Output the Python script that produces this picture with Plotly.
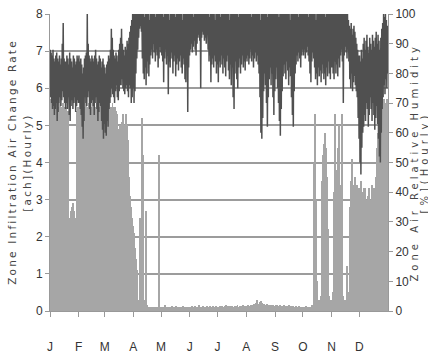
import pandas as pd
import plotly.graph_objects as go

YEAR_START = "2002-01-01"
months = ["J", "F", "M", "A", "M", "J", "J", "A", "S", "O", "N", "D"]

# Zone infiltration air change rate [ach], daily estimates (Jan..Dec)
infil_jan = [5.7, 5.6, 5.5, 5.6, 5.4, 5.5, 5.6, 5.5, 5.4, 5.5, 5.6, 5.5, 5.4, 5.5, 5.6, 5.5, 5.4, 5.5, 5.3, 5.4,
             1.15, 2.5, 2.7, 2.8, 2.9, 2.7, 2.6, 2.5, 2.35, 5.4, 5.5]
infil_feb = [5.5, 5.6, 5.4, 5.5, 5.6, 5.5, 5.4, 5.6, 5.5, 5.4, 5.5, 5.6, 5.5, 5.4, 5.5, 5.6, 5.5, 5.4, 5.5, 5.6,
             5.5, 5.4, 5.5, 5.6, 5.5, 5.4, 5.5, 5.6]
infil_mar = [5.5, 5.6, 5.4, 5.5, 5.6, 5.5, 5.4, 5.5, 5.6, 5.5, 5.4, 5.5, 5.4, 5.3, 2.0, 4.9, 5.0, 4.9, 5.1, 5.3,
             5.0, 4.9, 5.2, 5.3, 5.0, 4.6, 3.6, 3.1, 2.8, 2.5, 2.3]
infil_apr = [2.1, 1.7, 1.4, 1.1, 0.8, 0.3, 0.2, 2.5, 0.2, 5.2, 4.2, 0.3, 0.2, 2.7, 0.15, 0.1, 0.12, 0.08, 0.1, 0.12,
             0.1, 0.08, 0.1, 0.12, 0.1, 0.09, 0.1, 4.2, 0.12, 0.1]
infil_may = [0.1, 0.12, 0.08, 0.1, 0.15, 0.1, 0.09, 0.12, 0.1, 0.08, 0.1, 0.13, 0.1, 0.09, 0.11, 0.1, 0.14, 0.1, 0.08, 0.12,
             0.1, 0.09, 0.11, 0.13, 0.1, 0.12, 0.09, 0.1, 0.11, 0.1, 0.12]
infil_jun = [0.1, 0.12, 0.14, 0.1, 0.11, 0.13, 0.1, 0.12, 0.1, 0.15, 0.11, 0.1, 0.12, 0.1, 0.13, 0.11, 0.1, 0.12, 0.14, 0.1,
             0.11, 0.13, 0.12, 0.1, 0.11, 0.14, 0.12, 0.1, 0.13, 0.11]
infil_jul = [0.12, 0.1, 0.13, 0.11, 0.14, 0.12, 0.1, 0.13, 0.12, 0.15, 0.11, 0.13, 0.12, 0.14, 0.1, 0.13, 0.12, 0.11, 0.14, 0.12,
             0.13, 0.15, 0.12, 0.11, 0.14, 0.13, 0.12, 0.15, 0.13, 0.12, 0.14]
infil_aug = [0.13, 0.15, 0.12, 0.14, 0.16, 0.13, 0.15, 0.14, 0.18, 0.15, 0.22, 0.3, 0.2, 0.18, 0.25, 0.28, 0.22, 0.2, 0.17, 0.19,
             0.16, 0.15, 0.18, 0.16, 0.14, 0.17, 0.15, 0.13, 0.16, 0.14, 0.13]
infil_sep = [0.15, 0.13, 0.16, 0.14, 0.12, 0.15, 0.13, 0.14, 0.12, 0.16, 0.13, 0.12, 0.14, 0.13, 0.11, 0.15, 0.12, 0.13, 0.11, 0.14,
             0.12, 0.1, 0.13, 0.12, 0.11, 0.14, 0.12, 0.1, 0.12, 0.11]
infil_oct = [0.12, 0.1, 0.11, 0.13, 0.1, 0.12, 0.11, 0.1, 0.12, 0.15, 0.1, 0.12, 4.0, 5.3, 3.0, 0.8, 0.3, 0.2, 0.3, 0.4,
             3.5, 4.2, 4.5, 4.8, 4.7, 4.4, 3.6, 2.2, 0.4, 0.3, 0.2]
infil_nov = [0.3, 0.5, 3.2, 5.3, 3.8, 3.5, 4.4, 3.6, 5.0, 3.4, 3.3, 5.3, 0.4, 0.3, 0.2, 0.3, 1.2, 0.3, 0.5, 2.8,
             3.2, 3.5, 4.1, 3.4, 3.3, 3.6, 3.2, 3.4, 3.0, 3.3]
infil_dec = [3.1, 3.5, 3.2, 1.1, 3.3, 3.1, 3.3, 3.0, 2.9, 3.1, 3.3, 2.9, 3.0, 3.4, 3.2, 3.3, 3.0, 3.4, 3.6, 4.4,
             4.8, 4.6, 5.0, 5.3, 5.1, 5.5, 5.7, 5.6, 5.4, 5.7, 5.6]

# Zone air relative humidity [%], daily high / low estimates
rh_hi_jan = [88, 87, 86, 88, 85, 84, 86, 87, 85, 84, 86, 83, 85, 90, 97, 85, 84, 84, 86, 85,
             83, 87, 85, 84, 82, 86, 85, 83, 84, 86, 85]
rh_lo_jan = [72, 70, 68, 69, 66, 68, 70, 64, 67, 70, 72, 69, 71, 74, 72, 70, 68, 70, 68, 72,
             66, 64, 69, 71, 68, 70, 72, 67, 69, 71, 70]
rh_hi_feb = [86, 84, 85, 83, 80, 82, 85, 86, 87, 100, 90, 86, 85, 84, 86, 85, 84, 86, 88, 85,
             83, 84, 86, 85, 82, 84, 85, 83]
rh_lo_feb = [70, 68, 66, 62, 58, 64, 72, 70, 69, 72, 74, 68, 66, 70, 71, 69, 66, 70, 72, 68,
             64, 67, 70, 69, 64, 61, 58, 63]
rh_hi_mar = [82, 80, 83, 84, 86, 85, 88, 95, 92, 88, 86, 85, 87, 86, 84, 88, 90, 92, 95, 90,
             88, 86, 89, 88, 91, 90, 92, 94, 96, 98, 100]
rh_lo_mar = [60, 59, 64, 62, 68, 70, 72, 75, 73, 72, 70, 74, 76, 72, 71, 74, 76, 76, 78, 75,
             74, 73, 75, 76, 74, 72, 76, 75, 70, 72, 75]
rh_hi_apr = [100, 100, 100, 100, 100, 100, 100, 100, 100, 100, 100, 100, 99, 100, 100, 100, 100, 98, 100, 100,
             100, 100, 100, 100, 99, 100, 100, 100, 100, 100]
rh_lo_apr = [70, 74, 80, 85, 88, 92, 95, 96, 94, 85, 80, 78, 82, 76, 80, 84, 79, 83, 86, 88,
             85, 90, 87, 84, 88, 86, 82, 85, 89, 87]
rh_hi_may = [100, 100, 99, 100, 100, 100, 100, 100, 100, 98, 100, 100, 100, 100, 100, 99, 100, 100, 100, 100,
             100, 100, 100, 98, 100, 100, 100, 100, 100, 100, 100]
rh_lo_may = [86, 84, 77, 85, 88, 83, 86, 73, 84, 82, 87, 85, 80, 84, 86, 79, 83, 85, 81, 84,
             86, 82, 80, 85, 83, 78, 77, 84, 67, 82, 86]
rh_hi_jun = [100, 100, 100, 100, 99, 100, 100, 100, 100, 100, 100, 100, 100, 100, 100, 100, 100, 100, 100, 100,
             100, 99, 100, 100, 100, 100, 100, 98, 100, 100]
rh_lo_jun = [88, 90, 87, 89, 91, 88, 86, 90, 92, 93, 91, 75, 92, 94, 93, 91, 92, 90, 93, 88,
             84, 86, 77, 83, 85, 82, 86, 84, 80, 83]
rh_hi_jul = [100, 100, 100, 99, 100, 100, 100, 100, 100, 100, 100, 100, 100, 98, 100, 100, 100, 100, 100, 100,
             100, 100, 99, 100, 100, 100, 100, 100, 100, 100, 100]
rh_lo_jul = [77, 84, 82, 86, 83, 80, 85, 82, 79, 84, 86, 81, 78, 83, 76, 82, 72, 68, 80, 84,
             78, 75, 82, 85, 80, 83, 86, 82, 84, 81, 85]
rh_hi_aug = [100, 100, 100, 100, 100, 99, 100, 100, 100, 100, 100, 100, 100, 100, 100, 98, 100, 100, 100, 100,
             100, 100, 100, 99, 100, 100, 100, 100, 100, 100, 100]
rh_lo_aug = [84, 86, 83, 85, 88, 84, 86, 82, 85, 87, 84, 86, 83, 80, 72, 60, 58, 65, 74, 80,
             76, 70, 62, 72, 78, 82, 76, 80, 72, 66, 74]
rh_hi_sep = [100, 100, 100, 100, 99, 100, 100, 100, 100, 100, 100, 100, 100, 100, 100, 100, 98, 100, 100, 100,
             100, 100, 100, 100, 100, 99, 100, 100, 100, 100]
rh_lo_sep = [78, 82, 75, 70, 64, 59, 68, 74, 79, 83, 80, 78, 84, 81, 76, 82, 79, 72, 66, 62,
             74, 80, 83, 86, 84, 87, 85, 82, 86, 88]
rh_hi_oct = [100, 100, 100, 100, 100, 100, 99, 100, 100, 100, 100, 100, 100, 100, 98, 100, 100, 100, 100, 100,
             100, 100, 100, 100, 99, 100, 100, 100, 100, 100, 100]
rh_lo_oct = [86, 88, 85, 87, 89, 86, 84, 80, 77, 84, 87, 85, 82, 78, 80, 76, 82, 79, 81, 77,
             80, 83, 78, 80, 76, 82, 79, 84, 80, 78, 82]
rh_hi_nov = [100, 100, 100, 100, 100, 100, 100, 100, 100, 100, 100, 100, 100, 100, 100, 100, 100, 100, 98, 96,
             95, 97, 93, 95, 96, 94, 92, 90, 88, 86]
rh_lo_nov = [82, 80, 78, 84, 80, 83, 79, 85, 82, 86, 88, 84, 70, 86, 89, 87, 85, 88, 84, 78,
             75, 80, 74, 77, 79, 76, 74, 72, 65, 58]
rh_hi_dec = [86, 84, 88, 85, 90, 92, 88, 91, 93, 89, 87, 92, 90, 88, 93, 91, 89, 92, 94, 90,
             93, 91, 88, 92, 95, 97, 100, 99, 100, 98, 96]
rh_lo_dec = [50, 46, 55, 60, 62, 66, 64, 70, 68, 62, 66, 72, 68, 64, 70, 66, 61, 65, 69, 63,
             58, 52, 50, 60, 68, 72, 76, 73, 78, 75, 80]

left_title = ["Zone Infiltration Air Change Rate", "[ach](Hourly)"]
right_title = ["Zone Air Relative Humidity", "[%](Hourly)"]

infil = (infil_jan + infil_feb + infil_mar + infil_apr + infil_may + infil_jun +
         infil_jul + infil_aug + infil_sep + infil_oct + infil_nov + infil_dec)
rh_hi = (rh_hi_jan + rh_hi_feb + rh_hi_mar + rh_hi_apr + rh_hi_may + rh_hi_jun +
         rh_hi_jul + rh_hi_aug + rh_hi_sep + rh_hi_oct + rh_hi_nov + rh_hi_dec)
rh_lo = (rh_lo_jan + rh_lo_feb + rh_lo_mar + rh_lo_apr + rh_lo_may + rh_lo_jun +
         rh_lo_jul + rh_lo_aug + rh_lo_sep + rh_lo_oct + rh_lo_nov + rh_lo_dec)

days = pd.date_range(YEAR_START, periods=len(infil), freq="D")
bar_x = days + pd.Timedelta(hours=12)

rh_x, rh_y = [], []
for d, hi, lo in zip(days, rh_hi, rh_lo):
    rh_x += [d + pd.Timedelta(hours=6), d + pd.Timedelta(hours=18)]
    rh_y += [hi, lo]

month_starts = pd.date_range(YEAR_START, periods=12, freq="MS")

fig = go.Figure()
fig.add_trace(go.Bar(x=bar_x, y=infil, width=86400000, marker=dict(color="#a6a6a6", line=dict(width=0)),
                     name="Zone Infiltration Air Change Rate", yaxis="y"))
fig.add_trace(go.Scatter(x=rh_x, y=rh_y, mode="lines", line=dict(color="#505050", width=1.5),
                         name="Zone Air Relative Humidity", yaxis="y2"))

tick_font = dict(family="Liberation Sans Narrow, Arial Narrow, sans-serif", size=12, color="#333333")
title_font_l = dict(family="DejaVu Sans, Verdana, sans-serif", size=10.5, color="#444444")
title_font_r = dict(family="DejaVu Sans, Verdana, sans-serif", size=10, color="#444444")

fig.update_layout(
    width=428, height=358,
    margin=dict(l=50, r=40, t=14, b=47),
    paper_bgcolor="white", plot_bgcolor="white",
    showlegend=False, bargap=0,
    xaxis=dict(type="date", range=[YEAR_START, "2003-01-01"], tickvals=month_starts, ticktext=months,
               ticks="outside", ticklen=5, tickcolor="#999999", showline=True, linecolor="#999999",
               linewidth=1, showgrid=False, tickfont=tick_font, ticklabelstandoff=20, automargin=False),
    yaxis=dict(range=[0, 8], dtick=1, showgrid=True, gridcolor="#9c9c9c", gridwidth=2,
               zeroline=False, showline=True, linecolor="#999999", ticks="outside", ticklen=4,
               tickcolor="#999999", tickfont=tick_font, automargin=False),
    yaxis2=dict(range=[0, 100], dtick=10, overlaying="y", side="right", showgrid=False, zeroline=False,
                showline=True, linecolor="#999999", ticks="outside", ticklen=4, tickcolor="#999999",
                tickfont=tick_font, automargin=False),
)

# axis titles as rotated annotations (two lines each)
for txt, px, fnt in [(left_title[0], 11, title_font_l), (left_title[1], 26, title_font_l),
                     (right_title[0], 414, title_font_r), (right_title[1], 424, title_font_r)]:
    fig.add_annotation(text=txt, xref="paper", yref="paper", x=(px - 50) / 338.0, y=0.5,
                       xanchor="center", yanchor="middle", textangle=-90, showarrow=False,
                       font=fnt)

post = ("document.querySelectorAll('.annotation-text').forEach(function(t){"
        "var s=t.textContent;"
        "t.setAttribute('letter-spacing',(s.indexOf('Zone Air')===0||s.indexOf('[%]')===0)?'4px':'2.2px');});")
fig.write_html("out.html", post_script=post)
